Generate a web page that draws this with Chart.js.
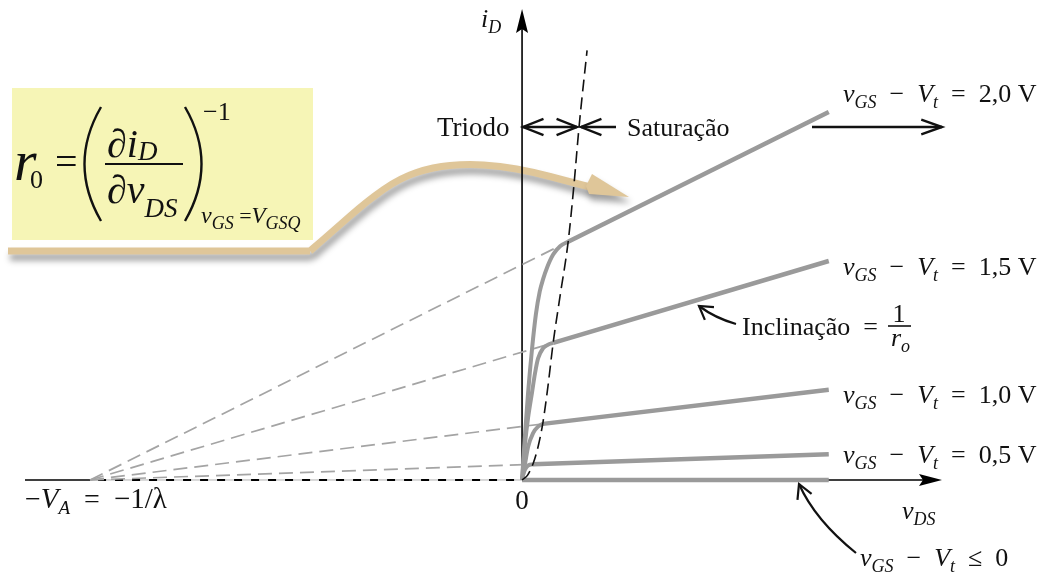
<!DOCTYPE html>
<html>
<head>
<meta charset="utf-8">
<script src="https://cdn.jsdelivr.net/npm/chart.js@4/dist/chart.umd.min.js"></script>
<style>
  html, body { margin: 0; padding: 0; background: #fff; }
  #wrap { width: 1040px; height: 573px; }
</style>
</head>
<body>
<div id="wrap"><canvas id="c" width="1040" height="573"></canvas></div>
<script>
// MOSFET output characteristics with channel-length modulation (iD vs vDS)
const earlyVoltage = 20;                       // VA = 1/lambda (V)
const overdriveLabels = ['2,0', '1,5', '1,0', '0,5'];
const satEndVds = 14.2;                        // where the saturation lines stop (V)
const satEndId  = [4.00, 2.38, 0.98, 0.28];    // iD at satEndVds (mA)
const kneeVds   = [2.13, 1.44, 0.97, 0.50];    // edge of saturation (V)
const kneeId    = [2.59, 1.49, 0.61, 0.17];    // iD at the edge of saturation (mA)

// triode-region curves, vDS (V) / iD (mA)
const triodeVds20 = [0, 0.05, 0.14, 0.28, 0.46, 0.64, 0.82, 0.97, 1.16, 1.44, 1.76, 2.13];
const triodeId20  = [0, 0.18, 0.50, 0.95, 1.42, 1.80, 2.05, 2.18, 2.31, 2.45, 2.54, 2.59];
const triodeVds15 = [0, 0.05, 0.14, 0.28, 0.46, 0.60, 0.74, 0.97, 1.20, 1.44];
const triodeId15  = [0, 0.14, 0.40, 0.68, 0.95, 1.16, 1.32, 1.43, 1.47, 1.49];
const triodeVds10 = [0, 0.14, 0.28, 0.51, 0.74, 0.97];
const triodeId10  = [0, 0.18, 0.36, 0.51, 0.58, 0.61];
const triodeVds05 = [0, 0.08, 0.18, 0.30, 0.50];
const triodeId05  = [0, 0.08, 0.13, 0.16, 0.17];

// triode / saturation boundary (vDS = vGS - Vt)
const boundaryVds = [0, 0.25, 0.50, 0.75, 0.97, 1.20, 1.44, 1.78, 2.13, 2.40, 2.64, 3.01];
const boundaryId  = [0, 0.05, 0.17, 0.37, 0.63, 1.02, 1.49, 2.03, 2.58, 3.20, 3.84, 4.67];

// cut-off characteristic (vGS - Vt <= 0)
const cutoffVds = [0, 14.2];
const cutoffId  = [0, 0];

// axis ranges (V, mA)
const X_MIN = -24.17, X_MAX = 23.98, Y_MIN = -1.011, Y_MAX = 5.217;

const GRAY = '#9a9a9a';
const SERIF = '"Liberation Serif", "DejaVu Serif", serif';
const it = s => 'italic ' + s + 'px ' + SERIF;
const rm = s => s + 'px ' + SERIF;

const pts = (xs, ys) => xs.map((x, i) => ({ x, y: ys[i] }));

const triodeSets = [
  [triodeVds20, triodeId20], [triodeVds15, triodeId15],
  [triodeVds10, triodeId10], [triodeVds05, triodeId05]
];

const datasets = [];
overdriveLabels.forEach((lab, k) => {
  datasets.push({ // extrapolation back to -VA
    label: 'ext ' + lab, data: [{ x: -earlyVoltage, y: 0 }, { x: kneeVds[k], y: kneeId[k] }],
    showLine: true, borderColor: '#a4a4a4', borderWidth: 1.7, borderDash: [14, 7],
    pointRadius: 0, order: 3
  });
});
datasets.push({
  label: 'cutoff', data: pts(cutoffVds, cutoffId), showLine: true,
  borderColor: GRAY, borderWidth: 4.5, pointRadius: 0, order: 2
});
overdriveLabels.forEach((lab, k) => {
  datasets.push({
    label: 'triode ' + lab, data: pts(triodeSets[k][0], triodeSets[k][1]), showLine: true,
    borderColor: GRAY, borderWidth: 4, pointRadius: 0, cubicInterpolationMode: 'monotone', order: 2
  });
  datasets.push({
    label: 'sat ' + lab, data: [{ x: kneeVds[k], y: kneeId[k] }, { x: satEndVds, y: satEndId[k] }],
    showLine: true, borderColor: GRAY, borderWidth: 4.5, pointRadius: 0, order: 2
  });
});
datasets.push({
  label: 'boundary', data: pts(boundaryVds, boundaryId), showLine: true,
  borderColor: '#111', borderWidth: 1.6, borderDash: [12, 6], pointRadius: 0,
  cubicInterpolationMode: 'monotone', order: 1
});

// draws a run of text pieces [text, font, dy]
function rich(ctx, x, y, parts, align) {
  let w = 0;
  for (const p of parts) { ctx.font = p[1]; w += ctx.measureText(p[0]).width; }
  let cx = align === 'center' ? x - w / 2 : (align === 'right' ? x - w : x);
  for (const p of parts) {
    ctx.font = p[1];
    ctx.fillText(p[0], cx, y + (p[2] || 0));
    cx += ctx.measureText(p[0]).width;
  }
  return w;
}

function openHead(ctx, tx, ty, ang, len, spread) {
  ctx.beginPath();
  ctx.moveTo(tx - len * Math.cos(ang - spread), ty - len * Math.sin(ang - spread));
  ctx.lineTo(tx, ty);
  ctx.lineTo(tx - len * Math.cos(ang + spread), ty - len * Math.sin(ang + spread));
  ctx.stroke();
}

function smoothPath(ctx, p) {
  ctx.moveTo(p[0][0], p[0][1]);
  for (let i = 1; i < p.length - 1; i++) {
    const mx = (p[i][0] + p[i + 1][0]) / 2, my = (p[i][1] + p[i + 1][1]) / 2;
    ctx.quadraticCurveTo(p[i][0], p[i][1], mx, my);
  }
  const l = p[p.length - 1];
  ctx.lineTo(l[0], l[1]);
}

const diagram = {
  id: 'diagram',
  beforeDraw(chart) {
    const ctx = chart.ctx;
    ctx.save();
    ctx.fillStyle = '#fff';
    ctx.fillRect(0, 0, chart.width, chart.height);
    ctx.restore();
  },
  beforeDatasetsDraw(chart) {
    const ctx = chart.ctx;
    const X = chart.scales.x, Y = chart.scales.y;
    const x0 = X.getPixelForValue(0), y0 = Y.getPixelForValue(0);
    const xA = X.getPixelForValue(-earlyVoltage);
    ctx.save();

    // formula card
    ctx.fillStyle = '#f6f5b6';
    ctx.fillRect(12, 88, 301, 152);

    // tan swoosh arrow with drop shadow
    ctx.save();
    ctx.shadowColor = 'rgba(0,0,0,0.38)';
    ctx.shadowBlur = 6;
    ctx.shadowOffsetX = 2;
    ctx.shadowOffsetY = 6;
    ctx.strokeStyle = '#dfc699';
    ctx.lineWidth = 7;
    ctx.lineJoin = 'round';
    ctx.beginPath();
    ctx.moveTo(8, 251);
    ctx.lineTo(310, 251);
    smoothPath(ctx, [[310, 251], [333, 231], [367, 201], [400, 178], [433, 167], [467, 164],
      [500, 166], [533, 172], [567, 181], [590, 187]]);
    ctx.stroke();
    ctx.fillStyle = '#dfc699';
    ctx.beginPath();
    ctx.moveTo(586, 186);
    ctx.lineTo(592, 174);
    ctx.lineTo(629, 197);
    ctx.lineTo(589, 194);
    ctx.closePath();
    ctx.fill();
    ctx.restore();

    // axes
    ctx.strokeStyle = '#000';
    ctx.fillStyle = '#000';
    ctx.lineWidth = 1.6;
    ctx.beginPath();
    ctx.moveTo(25, y0); ctx.lineTo(xA, y0);
    ctx.moveTo(x0, y0); ctx.lineTo(925, y0);
    ctx.moveTo(x0, y0); ctx.lineTo(x0, 28);
    ctx.stroke();
    ctx.save();
    ctx.strokeStyle = '#b0b0b0'; ctx.lineWidth = 1;
    ctx.beginPath(); ctx.moveTo(xA, y0); ctx.lineTo(x0, y0); ctx.stroke();
    ctx.strokeStyle = '#000'; ctx.lineWidth = 1.8; ctx.setLineDash([8, 9]);
    ctx.beginPath(); ctx.moveTo(xA + 8, y0); ctx.lineTo(x0, y0); ctx.stroke();
    ctx.restore();
    // arrowheads
    ctx.beginPath();
    ctx.moveTo(942, y0); ctx.lineTo(919, y0 - 6); ctx.lineTo(923, y0); ctx.lineTo(919, y0 + 6);
    ctx.closePath(); ctx.fill();
    ctx.beginPath();
    ctx.moveTo(x0, 9); ctx.lineTo(x0 - 6, 33); ctx.lineTo(x0, 29); ctx.lineTo(x0 + 6, 33);
    ctx.closePath(); ctx.fill();
    ctx.restore();
  },
  afterDatasetsDraw(chart) {
    const ctx = chart.ctx;
    const X = chart.scales.x, Y = chart.scales.y;
    const x0 = X.getPixelForValue(0), y0 = Y.getPixelForValue(0);
    ctx.save();
    ctx.fillStyle = '#111';
    ctx.strokeStyle = '#111';
    ctx.textBaseline = 'alphabetic';

    // ---- formula r0 = (diD / dvDS)^-1 ----
    rich(ctx, 14, 180, [['r', it(58)]]);
    rich(ctx, 30, 188, [['0', rm(26)]]);
    rich(ctx, 55, 175, [['=', rm(40)]]);
    ctx.lineWidth = 2.4;
    ctx.beginPath();
    ctx.moveTo(101, 107); ctx.quadraticCurveTo(68, 164, 101, 221);
    ctx.moveTo(185, 107); ctx.quadraticCurveTo(218, 164, 185, 221);
    ctx.stroke();
    rich(ctx, 107, 157, [['\u2202', rm(40)], ['i', it(40)], ['D', it(27), 3]]);
    ctx.lineWidth = 2;
    ctx.beginPath(); ctx.moveTo(105, 164); ctx.lineTo(183, 164); ctx.stroke();
    rich(ctx, 107, 203, [['\u2202', rm(40)], ['v', it(40)], ['DS', it(27), 14]]);
    rich(ctx, 203, 120, [['\u22121', rm(26)]]);
    rich(ctx, 201, 223, [['v', it(24)], ['GS', it(18), 6], [' =', rm(22)], ['V', it(23)], ['GSQ', it(18), 6]]);

    // ---- axis labels ----
    rich(ctx, 481, 27, [['i', it(26)], ['D', it(18), 6]]);
    rich(ctx, x0, 509, [['0', rm(27)]], 'center');
    rich(ctx, 902, 519, [['v', it(26)], ['DS', it(18), 6]]);
    rich(ctx, 25, 508, [['\u2212', rm(28)], ['V', it(29)], ['A', it(19), 6],
      ['\u2002=\u2002', rm(28)], ['\u22121/\u03bb', rm(29)]]);

    // ---- triode / saturation ----
    rich(ctx, 437, 136, [['Triodo', rm(27)]]);
    rich(ctx, 627, 136, [['Satura\u00e7\u00e3o', rm(26)]]);
    ctx.lineWidth = 2.4;
    ctx.beginPath();
    ctx.moveTo(x0 + 1, 127); ctx.lineTo(577, 127);
    ctx.moveTo(581, 127); ctx.lineTo(616, 127);
    ctx.moveTo(812, 127); ctx.lineTo(942, 127);
    ctx.stroke();
    openHead(ctx, x0 + 1, 127, Math.PI, 22, 0.38);
    openHead(ctx, 577, 127, 0, 22, 0.38);
    openHead(ctx, 581, 127, Math.PI, 22, 0.38);
    openHead(ctx, 942, 127, 0, 22, 0.34);

    // ---- curve labels ----
    const baselines = [102, 275, 403, 463];
    overdriveLabels.forEach((lab, k) => {
      rich(ctx, 843, baselines[k], [['v', it(26)], ['GS', it(18), 6], ['\u2002\u2212\u2002', rm(26)],
        ['V', it(26)], ['t', it(18), 6], ['\u2002=\u2002' + lab + ' V', rm(26)]]);
    });
    rich(ctx, 860, 566, [['v', it(26)], ['GS', it(18), 6], ['\u2002\u2212\u2002', rm(26)],
      ['V', it(26)], ['t', it(18), 6], ['\u2002\u2264\u20020', rm(26)]]);

    // ---- slope annotation ----
    rich(ctx, 742, 335, [['Inclina\u00e7\u00e3o\u2002=', rm(26)]]);
    rich(ctx, 899, 322, [['1', rm(26)]], 'center');
    ctx.lineWidth = 1.6;
    ctx.beginPath(); ctx.moveTo(888, 326); ctx.lineTo(911, 326); ctx.stroke();
    rich(ctx, 891, 346, [['r', it(26)], ['o', it(18), 6]]);

    // pointer to slope
    ctx.lineWidth = 2.2;
    ctx.beginPath();
    ctx.moveTo(736, 324);
    ctx.quadraticCurveTo(715, 318, 699, 306);
    ctx.stroke();
    openHead(ctx, 699, 306, Math.atan2(306 - 316, 699 - 713), 15, 0.55);

    // pointer to cut-off line
    ctx.beginPath();
    ctx.moveTo(856, 553);
    ctx.quadraticCurveTo(815, 520, 799, 484);
    ctx.stroke();
    openHead(ctx, 799, 484, Math.atan2(484 - 505, 799 - 808), 16, 0.5);

    ctx.restore();
  }
};

new Chart(document.getElementById('c'), {
  type: 'scatter',
  data: { datasets },
  options: {
    responsive: false,
    animation: false,
    devicePixelRatio: 1,
    layout: { padding: 0 },
    plugins: { legend: { display: false }, tooltip: { enabled: false } },
    scales: {
      x: { type: 'linear', min: X_MIN, max: X_MAX, display: false },
      y: { type: 'linear', min: Y_MIN, max: Y_MAX, display: false }
    }
  },
  plugins: [diagram]
});
</script>
</body>
</html>
